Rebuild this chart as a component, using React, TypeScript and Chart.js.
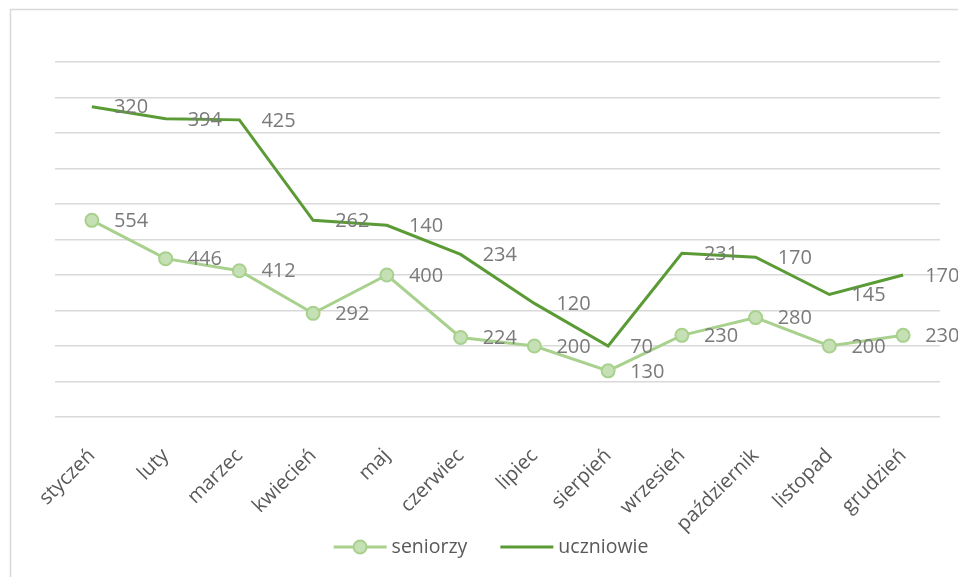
import React, { useEffect, useRef } from "react";
import { Chart, registerables } from "chart.js";

Chart.register(...registerables);

const months = ["styczeń", "luty", "marzec", "kwiecień", "maj", "czerwiec", "lipiec", "sierpień", "wrzesień", "październik", "listopad", "grudzień"];
const seniorzy = [554, 446, 412, 292, 400, 224, 200, 130, 230, 280, 200, 230];
const uczniowie = [320, 394, 425, 262, 140, 234, 120, 70, 231, 170, 145, 170];
const seriesNames = ["seniorzy", "uczniowie"];

const FONT = "'Open Sans', 'Noto Sans', sans-serif";
const LIGHT = "#A9D18E";
const LIGHT_FILL = "#C5E0B4";
const DARK = "#5B9B36";

const decor = {
  id: "decor",
  beforeDraw(chart: any) {
    const ctx = chart.ctx;
    ctx.save();
    ctx.strokeStyle = "#d9d9d9";
    ctx.lineWidth = 1.5;
    ctx.strokeRect(10.5, 9.5, 2000, 2000);
    ctx.restore();
  },
  afterDatasetsDraw(chart: any) {
    const ctx = chart.ctx;
    ctx.save();
    ctx.font = `20px ${FONT}`;
    ctx.fillStyle = "#7a7a7a";
    ctx.textAlign = "left";
    ctx.textBaseline = "middle";
    chart.data.datasets.forEach((ds: any, i: number) => {
      const meta = chart.getDatasetMeta(i);
      meta.data.forEach((pt: any, j: number) => {
        ctx.fillText(String(ds.data[j]), pt.x + 22, pt.y + 1);
      });
    });
    // legend
    const y = 547;
    ctx.font = `19.5px ${FONT}`;
    const w1 = ctx.measureText(seriesNames[0]).width;
    const w2 = ctx.measureText(seriesNames[1]).width;
    const sym = 53;
    const gap = 5;
    const spacing = 33;
    const total = sym + gap + w1 + spacing + sym + gap + w2;
    let x = 491 - total / 2;
    // seniorzy
    ctx.strokeStyle = LIGHT;
    ctx.lineWidth = 3;
    ctx.beginPath();
    ctx.moveTo(x, y);
    ctx.lineTo(x + sym, y);
    ctx.stroke();
    ctx.beginPath();
    ctx.arc(x + sym / 2, y, 6.5, 0, Math.PI * 2);
    ctx.fillStyle = LIGHT_FILL;
    ctx.fill();
    ctx.lineWidth = 2;
    ctx.stroke();
    ctx.fillStyle = "#595959";
    ctx.fillText(seriesNames[0], x + sym + gap, y);
    x = x + sym + gap + w1 + spacing;
    ctx.strokeStyle = DARK;
    ctx.lineWidth = 3;
    ctx.beginPath();
    ctx.moveTo(x, y);
    ctx.lineTo(x + sym, y);
    ctx.stroke();
    ctx.fillText(seriesNames[1], x + sym + gap, y);
    ctx.restore();
  },
};

export default function App() {
  const ref = useRef<HTMLCanvasElement>(null);
  useEffect(() => {
    const chart = new Chart(ref.current as HTMLCanvasElement, {
      type: "line",
      data: {
        labels: months,
        datasets: [
          {
            label: seriesNames[0],
            data: seniorzy,
            borderColor: LIGHT,
            backgroundColor: LIGHT_FILL,
            pointBackgroundColor: LIGHT_FILL,
            pointBorderColor: LIGHT,
            pointBorderWidth: 2,
            pointRadius: 6.5,
            borderWidth: 3,
            tension: 0,
          },
          {
            label: seriesNames[1],
            data: uczniowie,
            borderColor: DARK,
            backgroundColor: DARK,
            pointRadius: 0,
            borderWidth: 3,
            tension: 0,
          },
        ],
      },
      options: {
        animation: false,
        responsive: true,
        maintainAspectRatio: false,
        layout: { padding: { left: 55, right: 18, top: 62, bottom: 0 } },
        plugins: { legend: { display: false }, tooltip: { enabled: false } },
        scales: {
          x: {
            offset: true,
            grid: { display: false },
            border: { display: false },
            ticks: {
              minRotation: 45,
              maxRotation: 45,
              padding: 19,
              color: "#595959",
              font: { family: FONT, size: 20 },
            },
            afterFit: (s: any) => {
              s.height = 160;
            },
          },
          y: {
            stacked: true,
            min: 0,
            max: 1000,
            ticks: { display: false, stepSize: 100 },
            border: { display: false },
            grid: { color: "#d9d9d9", lineWidth: 1.5, drawTicks: false },
            afterFit: (s: any) => {
              s.width = 0;
            },
          },
        },
      },
      plugins: [decor],
    });
    return () => chart.destroy();
  }, []);
  return (
    <div style={{ position: "fixed", left: 0, top: 0, width: 958, height: 577, background: "#fff" }}>
      <canvas ref={ref} />
    </div>
  );
}
